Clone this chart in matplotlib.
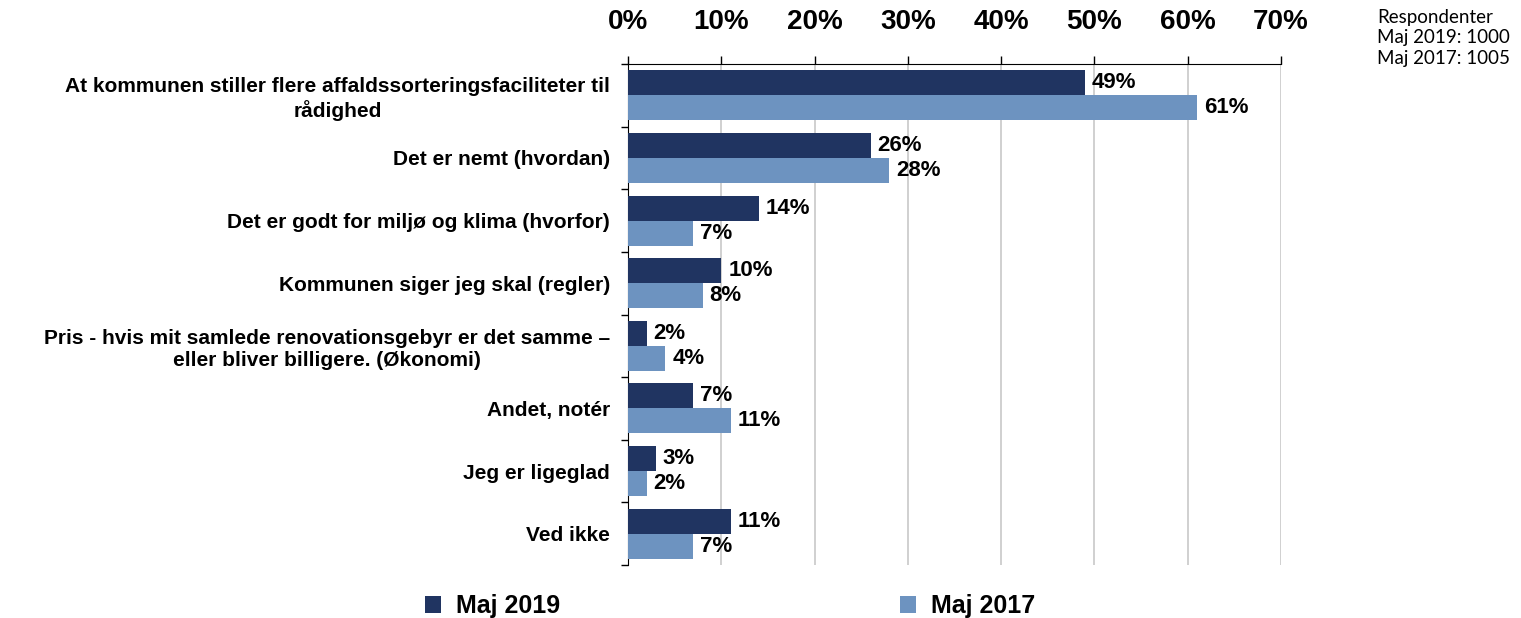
import matplotlib.pyplot as plt
import numpy as np
from matplotlib import ticker

categories = [
    "At kommunen stiller flere affaldssorteringsfaciliteter til\nrådighed",
    "Det er nemt (hvordan)",
    "Det er godt for miljø og klima (hvorfor)",
    "Kommunen siger jeg skal (regler)",
    "Pris - hvis mit samlede renovationsgebyr er det samme –\neller bliver billigere. (Økonomi)",
    "Andet, notér",
    "Jeg er ligeglad",
    "Ved ikke",
]
maj_2019 = [49, 26, 14, 10, 2, 7, 3, 11]
maj_2017 = [61, 28, 7, 8, 4, 11, 2, 7]
series_names = ["Maj 2019", "Maj 2017"]
x_ticks = [0, 10, 20, 30, 40, 50, 60, 70]

dark = "#203461"
light = "#6d93c0"

plt.rcParams["font.family"] = ["Liberation Sans", "DejaVu Sans"]

fig = plt.figure(figsize=(15.21, 6.18), dpi=100)
ax = fig.add_axes([628 / 1521, 1 - 565 / 618, (1281 - 628) / 1521, (565 - 64) / 618])

y = np.arange(len(categories))
h = 0.4
b1 = ax.barh(y - h / 2, maj_2019, height=h, color=dark, label=series_names[0], zorder=3)
b2 = ax.barh(y + h / 2, maj_2017, height=h, color=light, label=series_names[1], zorder=3)

for bars, vals in ((b1, maj_2019), (b2, maj_2017)):
    for bar, v in zip(bars, vals):
        ax.annotate("{}%".format(v), (bar.get_width(), bar.get_y() + bar.get_height() / 2),
                    xytext=(5, 0), textcoords="offset points", va="center", ha="left",
                    fontsize=16, fontweight="bold", color="black")

ax.set_xlim(0, 70)
ax.set_ylim(len(categories) - 0.5, -0.5)

ax.xaxis.tick_top()
ax.set_xticks(x_ticks)
ax.xaxis.set_major_formatter(ticker.FuncFormatter(lambda v, p: "{:.0f}%".format(v)))
ax.tick_params(axis="x", which="major", length=6, width=1, pad=15, labelsize=20)
for lab in ax.get_xticklabels():
    lab.set_fontweight("bold")
ax.grid(axis="x", color="#c8c8c8", linewidth=1.2, zorder=0)

ax.set_yticks(y)
ax.set_yticklabels(categories)
ax.yaxis.set_minor_locator(ticker.FixedLocator(np.arange(-0.5, len(categories), 1.0)))
ax.tick_params(axis="y", which="major", length=0, pad=13, labelsize=15)
ax.tick_params(axis="y", which="minor", length=5, width=1)
for lab in ax.get_yticklabels():
    lab.set_fontweight("bold")
    lab.set_multialignment("center")

ax.spines["right"].set_visible(False)
ax.spines["bottom"].set_visible(False)
ax.spines["top"].set_color("black")
ax.spines["left"].set_color("black")

fig.text(1377 / 1521, 1 - 9 / 618, "Respondenter\nMaj 2019: 1000\nMaj 2017: 1005",
         ha="left", va="top", fontsize=13.5, family=["Lato", "DejaVu Sans"], linespacing=1.25)

# two legend entries placed separately, as in the original layout
for handle, name, xpos in ((b1, series_names[0], 420), (b2, series_names[1], 895)):
    fig.legend(handles=[handle], labels=[name], loc="center left",
               bbox_to_anchor=(xpos / 1521, 1 - 606 / 618), frameon=False,
               handlelength=0.65, handleheight=0.65, handletextpad=0.6,
               borderaxespad=0, borderpad=0.2,
               prop={"weight": "bold", "size": 18})

fig.savefig("out.png", dpi=100)
